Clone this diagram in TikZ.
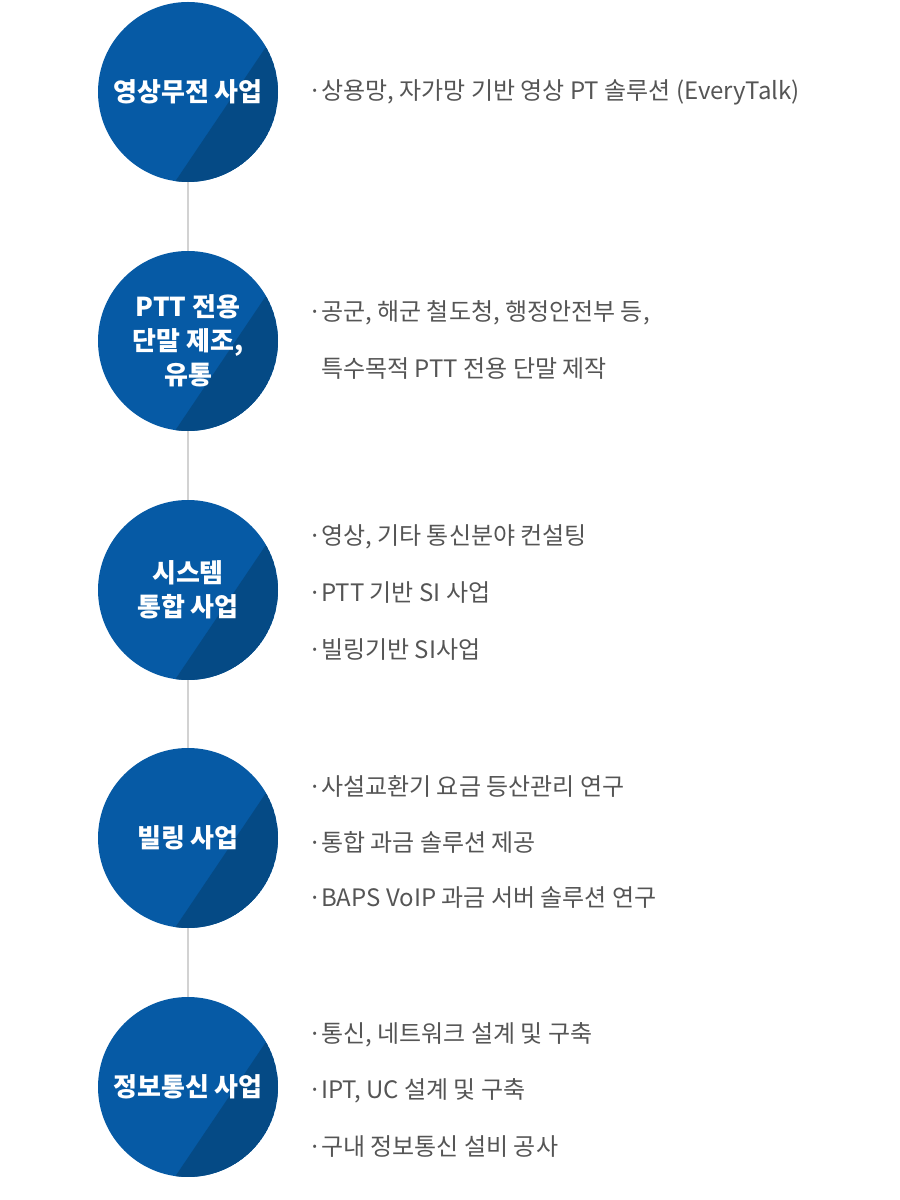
\documentclass[tikz,border=0pt]{standalone}
\usepackage{fontspec}
\setmainfont{Noto Sans CJK KR}
\usetikzlibrary{calc}
\definecolor{bizblue}{RGB}{6,90,165}
\definecolor{bizdark}{RGB}{5,74,133}
\definecolor{bodygray}{RGB}{85,85,85}
\definecolor{linkgray}{RGB}{210,210,210}
\newcommand{\dotmark}{\makebox[12pt][c]{·}}
\begin{document}
\begin{tikzpicture}[x=1pt,y=1pt,
  biz/.style={circle,minimum size=180pt,inner sep=0pt,fill=bizblue,text=white,align=center,
    font=\fontsize{26}{34}\selectfont\bfseries,
    path picture={\fill[bizdark] ($(path picture bounding box.center)+(-98:90)$)
      arc[start angle=-98,end angle=30,radius=90] -- cycle;}},
  item/.style={anchor=west,text=bodygray,inner sep=0pt,font=\fontsize{24}{28}\selectfont},
  link/.style={draw=linkgray,line width=2pt}]
\useasboundingbox (0,0) rectangle (900,1200);
\node[biz] (c1) at (188,1108) {영상무전 사업};
\node[biz] (c2) at (188,859) {PTT 전용\\단말 제조,\\유통};
\node[biz] (c3) at (188,610) {시스템\\통합 사업};
\node[biz] (c4) at (188,362) {빌링 사업};
\node[biz] (c5) at (188,113) {정보통신 사업};
\draw[link] (c1) -- (c2);
\draw[link] (c2) -- (c3);
\draw[link] (c3) -- (c4);
\draw[link] (c4) -- (c5);
\node[item] (t11) at (309,1108) {\dotmark 상용망, 자가망 기반 영상 PT 솔루션 (EveryTalk)};
\node[item] (t21) at (309,887) {\dotmark 공군, 해군 철도청, 행정안전부 등,};
\node[item] (t22) at (309,831) {\phantom{\dotmark}특수목적 PTT 전용 단말 제작};
\node[item] (t31) at (309,663) {\dotmark 영상, 기타 통신분야 컨설팅};
\node[item] (t32) at (309,607) {\dotmark PTT 기반 SI 사업};
\node[item] (t33) at (309,550) {\dotmark 빌링기반 SI사업};
\node[item] (t41) at (309,414) {\dotmark 사설교환기 요금 등산관리 연구};
\node[item] (t42) at (309,358) {\dotmark 통합 과금 솔루션 제공};
\node[item] (t43) at (309,302) {\dotmark BAPS VoIP 과금 서버 솔루션 연구};
\node[item] (t51) at (309,165) {\dotmark 통신, 네트워크 설계 및 구축};
\node[item] (t52) at (309,109) {\dotmark IPT, UC 설계 및 구축};
\node[item] (t53) at (309,53) {\dotmark 구내 정보통신 설비 공사};
\end{tikzpicture}
\end{document}
